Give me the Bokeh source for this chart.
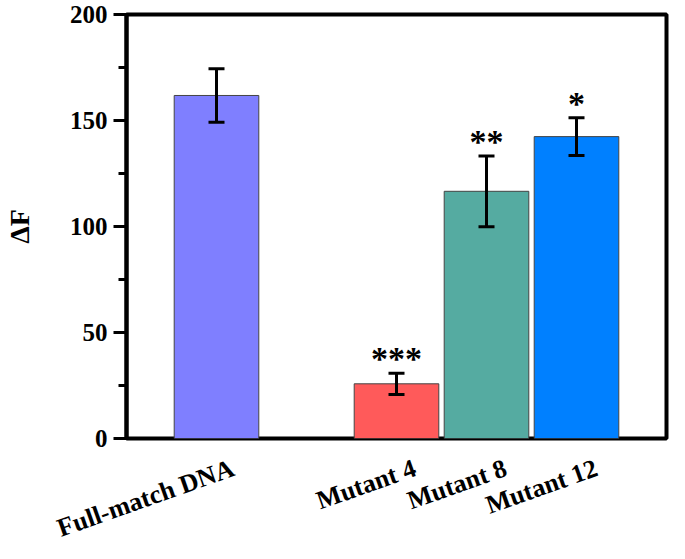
from bokeh.plotting import figure
from bokeh.models import (ColumnDataSource, SingleIntervalTicker,
                          Range1d, Whisker, TeeHead)
from bokeh.core.properties import value
from bokeh.embed import file_html
from bokeh.resources import INLINE

# ---- data ----
categories = ["Full-match DNA", "Mutant 4", "Mutant 8", "Mutant 12"]
delta_f = [161.8, 25.8, 116.6, 142.4]
errors = [12.6, 5.0, 16.7, 8.9]
significance = ["", "***", "**", "*"]
bar_colors = ["#7F7FFF", "#FF5A5A", "#55ABA1", "#0080FF"]

# layout slots (a gap after the first bar)
slots = [0, 2, 3, 4]

FONT = "Liberation Serif"
W = 669
TOP_H = 452
BOT_H = 91
BORDER_L, BORDER_R = 121, 3
X0, X1 = -1, 5

src = ColumnDataSource(dict(
    x=slots,
    top=delta_f,
    upper=[v + e for v, e in zip(delta_f, errors)],
    lower=[v - e for v, e in zip(delta_f, errors)],
    sig=significance,
    color=bar_colors,
    cat=categories,
    base=[1] * len(slots),
))

p = figure(width=W, height=TOP_H,
           x_range=Range1d(X0, X1), y_range=Range1d(0, 200),
           output_backend="svg", toolbar_location=None,
           x_axis_location=None,
           min_border_left=BORDER_L, min_border_right=BORDER_R,
           min_border_top=14, min_border_bottom=14)

p.xgrid.visible = False
p.ygrid.visible = False
p.background_fill_color = "white"
p.border_fill_color = "white"
p.outline_line_color = "black"
p.outline_line_width = 4

p.vbar(x="x", top="top", bottom=0, width=0.94, fill_color="color",
       line_color="#444444", line_width=1, source=src)

whisk = Whisker(base="x", upper="upper", lower="lower", source=src,
                line_color="black", line_width=3, level="overlay",
                upper_head=TeeHead(size=16, line_width=3, line_color="black"),
                lower_head=TeeHead(size=16, line_width=3, line_color="black"))
p.add_layout(whisk)

p.text(x="x", y="upper", text="sig", source=src,
       text_font=value(FONT), text_font_style="bold",
       text_font_size="34px", text_align="center", text_baseline="bottom",
       y_offset=4, text_color="black")

# y axis
yax = p.yaxis[0]
yax.ticker = SingleIntervalTicker(interval=50, num_minor_ticks=2)
yax.axis_label = "ΔF"
yax.axis_label_text_font = FONT
yax.axis_label_text_font_style = "bold"
yax.axis_label_text_font_size = "28px"
yax.axis_label_text_color = "black"
yax.axis_label_standoff = 32
yax.major_label_text_font = FONT
yax.major_label_text_font_style = "bold"
yax.major_label_text_font_size = "25px"
yax.major_label_text_color = "black"
yax.major_label_standoff = 6
yax.axis_line_width = 4
yax.major_tick_line_width = 3
yax.minor_tick_line_width = 3
yax.major_tick_out = 13
yax.major_tick_in = 0
yax.minor_tick_out = 8
yax.minor_tick_in = 0

# ---- category labels strip under the plot, sharing the x scale ----
unit = (W - BORDER_L - BORDER_R) / (X1 - X0)
q = figure(width=W, height=BOT_H,
           x_range=Range1d(X0 - BORDER_L / unit, X1 + BORDER_R / unit),
           y_range=Range1d(0, 1),
           output_backend="svg", toolbar_location=None,
           x_axis_location=None, y_axis_location=None,
           min_border_left=0, min_border_right=0,
           min_border_top=0, min_border_bottom=0)
q.xgrid.visible = False
q.ygrid.visible = False
q.outline_line_color = None
q.background_fill_color = "white"
q.border_fill_color = "white"

q.text(x="x", y="base", text="cat", source=src, angle=0.34,
       text_align="right", text_baseline="top",
       x_offset=16, y_offset=1,
       text_font=value(FONT), text_font_style="bold",
       text_font_size="26px", text_color="black")

open("out.html", "w").write(file_html([p, q], INLINE))
